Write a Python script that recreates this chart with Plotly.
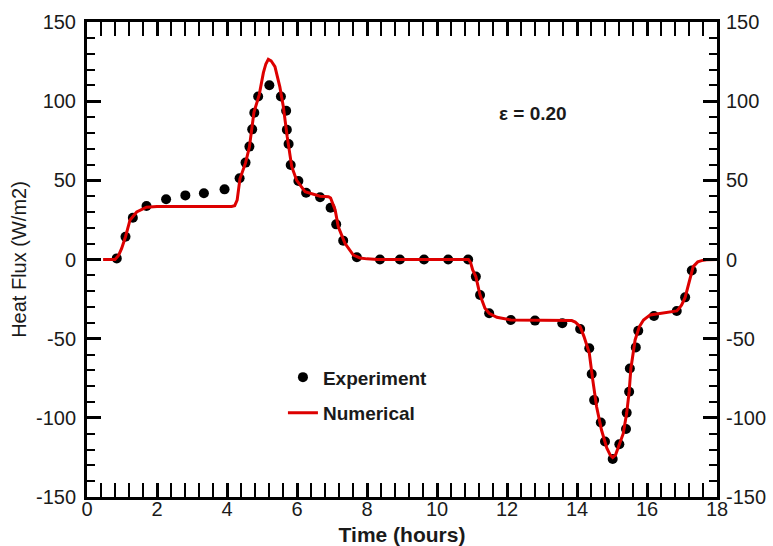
import plotly.graph_objects as go

# Experimental data (Time in hours, Heat Flux W/m2)
exp_time = [0.85, 1.10, 1.31, 1.70, 2.26, 2.81, 3.34, 3.93,
            4.36, 4.53, 4.64, 4.72, 4.78, 4.89, 5.21,
            5.54, 5.69, 5.71, 5.76, 5.82, 6.04, 6.26, 6.66, 6.96, 7.12, 7.32, 7.71,
            8.37, 8.94, 9.63, 10.32, 10.89,
            11.11, 11.23, 11.49, 12.11, 12.80, 13.58, 14.09,
            14.35, 14.42, 14.49, 14.68, 14.80, 15.02,
            15.21, 15.40, 15.42, 15.49, 15.51, 15.68, 15.75,
            16.20, 16.85, 17.09, 17.28]
exp_flux = [0.7, 14.4, 26.4, 33.8, 38.0, 40.5, 41.8, 44.3,
            51.3, 61.2, 71.3, 82.2, 92.7, 103.0, 110.0,
            103.0, 94.0, 82.0, 73.0, 59.7, 49.6, 42.2, 39.3, 32.7, 22.2, 11.9, 1.4,
            0.0, 0.0, 0.0, 0.0, 0.0,
            -10.8, -22.4, -34.0, -38.2, -38.6, -40.3, -43.9,
            -56.0, -72.3, -88.8, -103.0, -115.0, -126.0,
            -116.7, -107.0, -96.8, -83.5, -68.8, -55.5, -45.0,
            -35.7, -32.5, -23.9, -7.0]

# Numerical solution
num_time = [0.46, 0.80, 0.90, 0.99, 1.10, 1.23, 1.42, 1.70, 2.00, 4.13, 4.22, 4.29,
            4.37, 4.53, 4.64, 4.71, 4.77, 4.92, 5.04, 5.11, 5.18, 5.26, 5.37, 5.51,
            5.61, 5.72, 5.85, 5.99, 6.23, 6.66, 6.90, 6.96, 7.09, 7.18, 7.37, 7.61,
            7.80, 8.00, 8.30, 10.90, 10.96, 11.02, 11.11, 11.23, 11.37, 11.49, 11.71,
            12.11, 13.85, 13.95, 14.09, 14.20, 14.35, 14.45, 14.56, 14.70, 14.85,
            14.95, 15.02, 15.10, 15.18, 15.32, 15.42, 15.49, 15.54, 15.66, 15.78,
            15.90, 16.09, 16.50, 16.85, 16.93, 16.99, 17.09, 17.21, 17.32, 17.45,
            17.56, 17.70, 17.87, 18.00]
num_flux = [0.0, 0.0, 2.5, 7.0, 14.4, 25.0, 30.0, 33.0, 33.5, 33.5, 34.0, 37.5,
            51.0, 61.0, 71.0, 82.0, 93.0, 104.0, 118.0, 123.5, 126.4, 125.5, 121.8, 109.0,
            96.5, 77.6, 58.6, 50.0, 42.8, 40.0, 39.6, 38.8, 31.3, 20.7, 10.2, 2.8,
            1.0, 0.4, 0.0, 0.0, -2.0, -6.6, -10.8, -22.4, -30.8, -34.0, -36.5,
            -38.2, -38.6, -39.5, -42.4, -48.7, -59.0, -76.0, -93.0, -107.7, -119.0,
            -123.5, -125.0, -123.5, -119.0, -110.0, -97.0, -83.5, -68.8, -50.8, -42.5,
            -38.2, -35.0, -33.5, -32.5, -30.5, -28.7, -24.0, -13.0, -4.5, -1.5,
            -0.7, -0.2, 0.0, 0.0]

x_ticks = [0, 2, 4, 6, 8, 10, 12, 14, 16, 18]
y_ticks = [-150, -100, -50, 0, 50, 100, 150]

FONT = "Liberation Sans, Arial, sans-serif"
TXT = "#1a1a1a"

fig = go.Figure()
fig.add_trace(go.Scatter(
    x=exp_time, y=exp_flux, mode="markers", name="Experiment",
    marker=dict(color="black", size=10, symbol="circle"),
    legendgroup="a"))
fig.add_trace(go.Scatter(
    x=num_time, y=num_flux, mode="lines", name="Numerical",
    line=dict(color="#dd0000", width=3),
    legendgroup="b"))
# invisible trace to carry right-side axis labels
fig.add_trace(go.Scatter(x=[0], y=[0], yaxis="y2", mode="markers",
                         marker=dict(opacity=0), showlegend=False, hoverinfo="skip"))

axis_common = dict(
    showline=True, linecolor="black", linewidth=3, mirror="allticks",
    ticks="inside", ticklen=14, tickwidth=3, tickcolor="black",
    showgrid=False, zeroline=False, automargin=False,
    tickfont=dict(family=FONT, size=20, color=TXT),
)

fig.update_layout(
    width=773, height=546,
    margin=dict(l=87, r=56, t=22, b=49),
    paper_bgcolor="white", plot_bgcolor="white",
    font=dict(family=FONT, color=TXT),
    xaxis=dict(
        range=[0, 18], tickvals=x_ticks, ticktext=[str(v) for v in x_ticks],
        minor=dict(dtick=0.4, tick0=0, ticks="inside", ticklen=8, tickwidth=1.5, tickcolor="black"),
        title=dict(text="<b>Time (hours)</b>", font=dict(family=FONT, size=21, color=TXT), standoff=9),
        ticklabelstandoff=-8,
        **axis_common),
    yaxis=dict(
        range=[-150, 150], tickvals=y_ticks, ticktext=[str(v) for v in y_ticks],
        minor=dict(dtick=10, tick0=0, ticks="inside", ticklen=8, tickwidth=1.5, tickcolor="black"),
        title=dict(text="Heat Flux (W/m2)", font=dict(family=FONT, size=20, color=TXT), standoff=4),
        ticklabelstandoff=4,
        **axis_common),
    yaxis2=dict(
        overlaying="y", side="right", range=[-150, 150], tickvals=y_ticks,
        ticktext=[str(v) for v in y_ticks], showline=False, ticks="",
        showgrid=False, zeroline=False, ticklabelstandoff=8, automargin=False,
        tickfont=dict(family=FONT, size=20, color=TXT)),
    showlegend=True,
    legend=dict(x=0.311, y=0.292, xanchor="left", yanchor="top",
                bgcolor="rgba(0,0,0,0)", traceorder="grouped", tracegroupgap=8,
                font=dict(family=FONT, size=19, color=TXT, weight="bold")),
    annotations=[dict(x=12.74, y=92.5, xref="x", yref="y", text="<b>ε = 0.20</b>",
                      showarrow=False, xanchor="center", yanchor="middle",
                      font=dict(family=FONT, size=19, color=TXT))],
)

fig.write_html("out.html")
